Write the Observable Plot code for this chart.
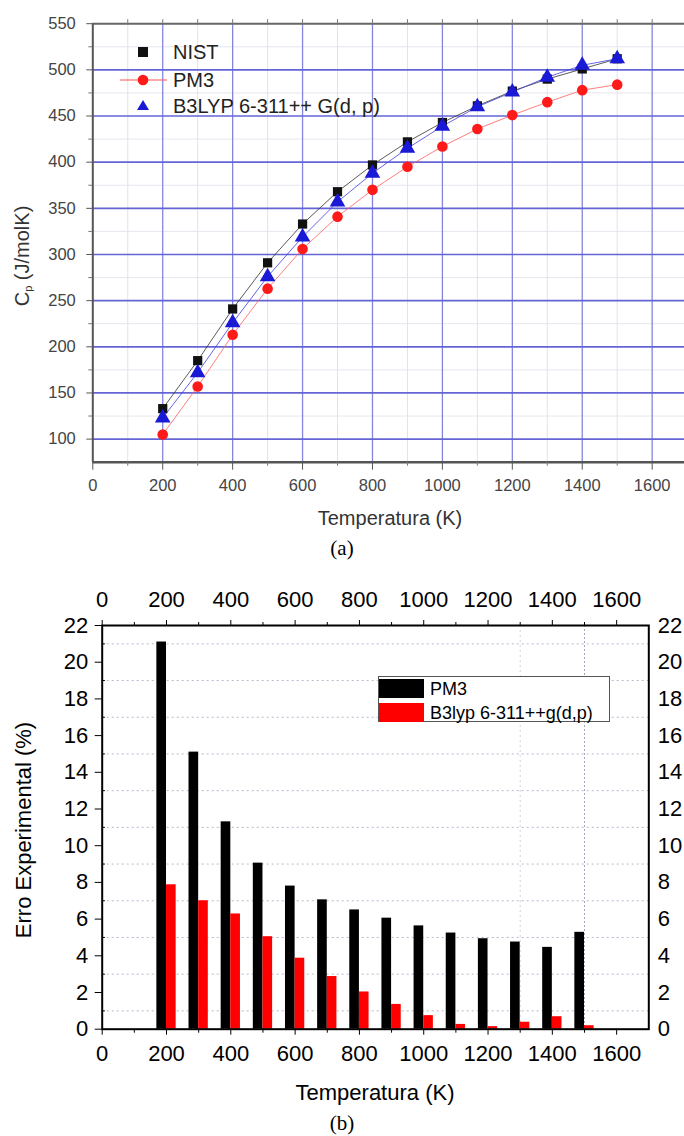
<!DOCTYPE html>
<html><head><meta charset="utf-8">
<script src="https://cdn.jsdelivr.net/npm/d3@7"></script>
<script src="https://cdn.jsdelivr.net/npm/@observablehq/plot@0.6"></script>
<style>
body{margin:0;background:#fff;}
#wrap{position:relative;width:684px;height:1136px;overflow:hidden;font-family:"Liberation Sans",Arial,sans-serif;background:#fff;}
#wrap > svg{position:absolute;left:0;}
.abs{position:absolute;white-space:nowrap;}
.cap{font-family:"Liberation Serif","Times New Roman",serif;font-size:21px;color:#000;transform:translate(-50%,-50%);}
.ytitle{transform:translate(-50%,-50%) rotate(-90deg);}
</style></head><body><div id="wrap"></div>
<script>
// ---- Chart (a): heat capacity ----
const temps = [200,300,400,500,600,700,800,900,1000,1100,1200,1300,1400,1500];
const nist  = [133,185,241,291,333,368,397,422,443,461,477,490,501,512];
const pm3   = [105,157,213,263,306,341,370,395,417,436,451,465,478,484];
const b3lyp = [123,172,226,276,319,357,388,415,439,460,476,492,505,512];
const seriesNames = ["NIST","PM3","B3LYP 6-311++ G(d, p)"];
const xTicks = [0,200,400,600,800,1000,1200,1400,1600];
const cpTicks = [100,150,200,250,300,350,400,450,500,550];

// ---- Chart (b): experimental error ----
const errPM3 = [21.1,15.1,11.3,9.05,7.8,7.05,6.5,6.05,5.63,5.24,4.93,4.75,4.46,5.28];
const errB3  = [7.87,7.0,6.28,5.04,3.87,2.87,2.03,1.35,0.74,0.26,0.14,0.38,0.68,0.19];
const errNames = ["PM3","B3lyp 6-311++g(d,p)"];
const errTicks = [0,2,4,6,8,10,12,14,16,18,20,22];

const wrap = document.getElementById("wrap");
const fmt = d => String(d);
const blank = () => "";

const rowsA = temps.flatMap((t,i)=>[
  {T:t, v:nist[i], s:seriesNames[0]},
  {T:t, v:pm3[i], s:seriesNames[1]},
  {T:t, v:b3lyp[i], s:seriesNames[2]}
]);
const colA = {"NIST":"#111111","PM3":"#ff1a1a","B3LYP 6-311++ G(d, p)":"#1a1ad6"};
const lineColA = {"NIST":"#333333","PM3":"#ff6060","B3LYP 6-311++ G(d, p)":"#4040e0"};

const minorXa = d3.range(100,1700,200);
const gridYa = d3.range(100,501,50);
const minorYa = d3.range(125,550,50);

const chartA = Plot.plot({
  width:684, height:530,
  marginLeft:92.3, marginRight:0, marginTop:23.2, marginBottom:68.3,
  x:{domain:[0,1692.5]}, y:{domain:[75,550]},
  style:{fontFamily:"Liberation Sans, Arial, sans-serif", fontSize:"16.5px", color:"#444", background:"transparent", overflow:"visible"},
  marks:[
    Plot.ruleY(minorYa, {stroke:"#e6e6ef", strokeWidth:1}),
    Plot.ruleX(minorXa, {stroke:"#e2e2ee", strokeWidth:1}),
    Plot.ruleX(xTicks.filter(d=>d>0), {stroke:"#8585e0", strokeWidth:1.3}),
    Plot.ruleY(gridYa, {stroke:"#6464d6", strokeWidth:1.7}),
    Plot.line(rowsA, {x:"T", y:"v", z:"s", stroke:d=>lineColA[d.s], strokeWidth:1, strokeOpacity:0.8}),
    Plot.dot(rowsA.filter(d=>d.s==="NIST"), {x:"T", y:"v", symbol:"square", r:5.2, fill:colA["NIST"], stroke:"none"}),
    Plot.dot(rowsA.filter(d=>d.s==="PM3"), {x:"T", y:"v", symbol:"circle", r:5.3, fill:colA["PM3"], stroke:"none"}),
    Plot.dot(rowsA.filter(d=>d.s===seriesNames[2]), {x:"T", y:"v", symbol:"triangle", r:5.8, fill:colA[seriesNames[2]], stroke:"none"}),
    Plot.ruleY([75], {stroke:"#555", strokeWidth:2.5}),
    Plot.ruleY([550], {stroke:"#666", strokeWidth:2}),
    Plot.ruleX([0], {stroke:"#555", strokeWidth:2}),
    Plot.axisX(xTicks, {anchor:"bottom", tickSize:8, tickPadding:9, tickFormat:fmt, label:null, stroke:"#555"}),
    Plot.axisX(minorXa, {anchor:"bottom", tickSize:4, tickFormat:blank, label:null, stroke:"#777"}),
    Plot.axisX(d3.range(100,1700,100), {anchor:"top", tickSize:5, tickFormat:blank, label:null, stroke:"#777"}),
    Plot.axisY(cpTicks, {anchor:"left", tickSize:6, tickPadding:11, tickFormat:fmt, label:null, stroke:"#555"}),
    Plot.axisY(minorYa, {anchor:"left", tickSize:4, tickFormat:blank, label:null, stroke:"#777"})
  ]
});
chartA.style.top = "0px";
wrap.appendChild(chartA);

// ---- Chart (b) ----
const rowsB = temps.flatMap((t,i)=>[
  {T:t, v:errPM3[i], s:errNames[0]},
  {T:t, v:errB3[i], s:errNames[1]}
]);
const barHalf = 30;
const chartB = Plot.plot({
  width:684, height:576,
  marginLeft:101.7, marginRight:35.7, marginTop:65, marginBottom:107.3,
  x:{domain:[0,1700]}, y:{domain:[0,22]},
  style:{fontFamily:"Liberation Sans, Arial, sans-serif", fontSize:"22px", color:"#000", background:"transparent", overflow:"visible"},
  marks:[
    Plot.ruleY(d3.range(1,22,2), {stroke:"#b4b8cc", strokeWidth:1, strokeDasharray:"2,3"}),
    Plot.ruleX([1300], {stroke:"#d0d2e0", strokeWidth:1, strokeDasharray:"2,3"}),
    Plot.ruleX([1500], {stroke:"#a0a4bc", strokeWidth:1, strokeDasharray:"2,2"}),
    Plot.rectY(rowsB.filter(d=>d.s===errNames[0]), {x1:d=>d.T-barHalf, x2:d=>d.T, y1:0, y2:"v", fill:"#000"}),
    Plot.rectY(rowsB.filter(d=>d.s===errNames[1]), {x1:d=>d.T, x2:d=>d.T+barHalf, y1:0, y2:"v", fill:"#ff0000"}),
    Plot.frame({stroke:"#000", strokeWidth:2}),
    Plot.axisX(xTicks, {anchor:"bottom", tickSize:6, tickPadding:10, tickFormat:fmt, label:null}),
    Plot.axisX(d3.range(100,1700,200), {anchor:"bottom", tickSize:4, tickFormat:blank, label:null}),
    Plot.axisX(xTicks, {anchor:"top", tickSize:6, tickPadding:13, tickFormat:fmt, label:null}),
    Plot.axisX(d3.range(100,1700,200), {anchor:"top", tickSize:4, tickFormat:blank, label:null}),
    Plot.axisY(errTicks, {anchor:"left", tickSize:7, tickPadding:7, tickFormat:fmt, label:null}),
    Plot.axisY(errTicks, {anchor:"right", tickSize:0, tickPadding:9, tickFormat:fmt, label:null}),
    Plot.ruleY(d3.range(1,22,2), {x1:0, x2:10, stroke:"#000", strokeWidth:1})
  ]
});
chartB.style.top = "560px";
wrap.appendChild(chartB);

// ---- HTML overlays: titles, captions, legends ----
function add(html, css, cls){
  const d = document.createElement("div");
  d.className = "abs " + (cls||"");
  d.innerHTML = html;
  Object.assign(d.style, css);
  wrap.appendChild(d);
  return d;
}
// chart a titles
add("Temperatura (K)", {left:"390px", top:"518px", fontSize:"20px", color:"#333", transform:"translate(-50%,-50%)"});
add("C<sub style='font-size:11px;vertical-align:-3px'>p</sub> (J/molK)", {left:"22px", top:"256px", fontSize:"20px", color:"#333"}, "ytitle");
add("(a)", {left:"342px", top:"548px"}, "cap");
// chart a legend
const legA = [
  {sym:"<rect x='18' y='5' width='10' height='10' fill='"+colA["NIST"]+"'/>", name:seriesNames[0], y:52},
  {sym:"<line x1='0' y1='10' x2='47' y2='10' stroke='#ff5050' stroke-width='1'/><circle cx='23' cy='10' r='5.3' fill='"+colA["PM3"]+"'/>", name:seriesNames[1], y:80},
  {sym:"<path d='M23,4 L29,14 L17,14 Z' fill='"+colA[seriesNames[2]]+"'/>", name:seriesNames[2], y:106}
];
legA.forEach(r=>{
  add("<svg width='48' height='20'>"+r.sym+"</svg>", {left:"120px", top:(r.y-10)+"px", lineHeight:"0"});
  add(r.name, {left:"173px", top:r.y+"px", fontSize:"20px", color:"#222", transform:"translateY(-50%)"});
});
// chart b titles
add("Temperatura (K)", {left:"375px", top:"1093px", fontSize:"22px", color:"#000", transform:"translate(-50%,-50%)"});
add("Erro Experimental (%)", {left:"24px", top:"830px", fontSize:"22px", color:"#000"}, "ytitle");
add("(b)", {left:"342px", top:"1123px"}, "cap");
// chart b legend
add("", {left:"378px", top:"676px", width:"232px", height:"46px", border:"1px solid #555", background:"#fff", boxSizing:"border-box"});
const legB = [{c:"#000", name:errNames[0], y:689}, {c:"#ff0000", name:errNames[1], y:713}];
legB.forEach(r=>{
  add("", {left:"379px", top:(r.y-10)+"px", width:"45px", height:"19px", background:r.c});
  add(r.name, {left:"430px", top:r.y+"px", fontSize:"18px", color:"#000", transform:"translateY(-50%)"});
});
</script>
</body></html>
